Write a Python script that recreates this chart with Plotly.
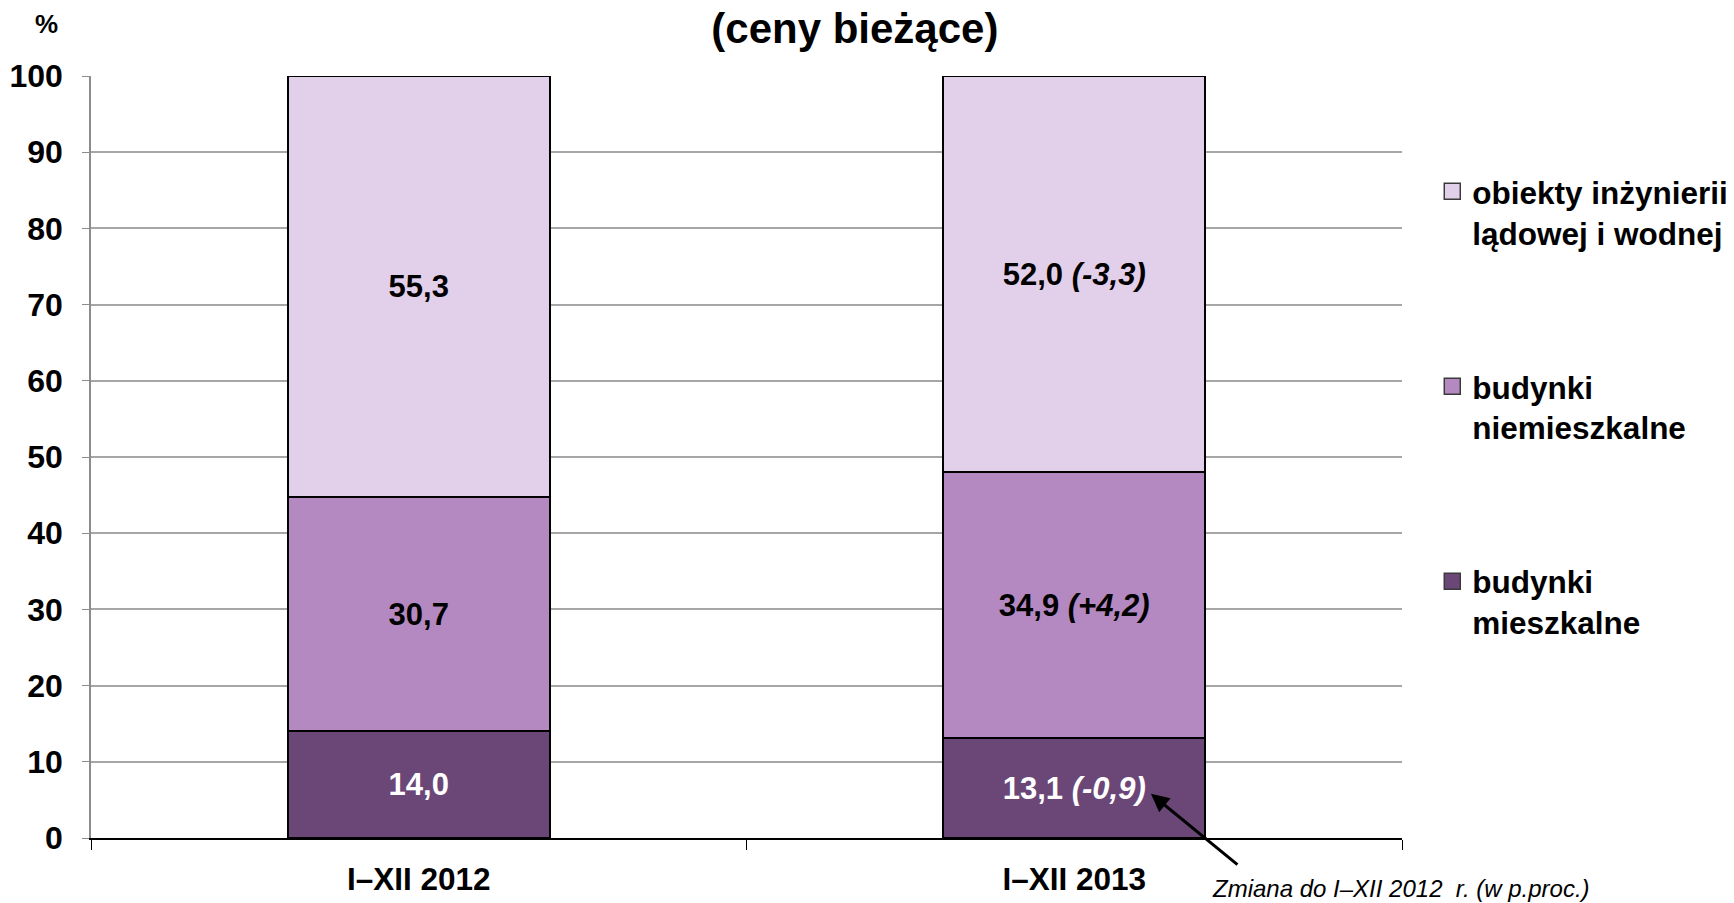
import plotly.graph_objects as go

# data
categories = ['I–XII 2012', 'I–XII 2013']
mieszkalne = [14.0, 13.1]
niemieszkalne = [30.7, 34.9]
inzynieria = [55.3, 52.0]
zm_mieszkalne = [None, '-0,9']
zm_niemieszkalne = [None, '+4,2']
zm_inzynieria = [None, '-3,3']
y_ticks = [0, 10, 20, 30, 40, 50, 60, 70, 80, 90, 100]

FONT = 'Liberation Sans, Arial, sans-serif'


def labels(vals, changes):
  out = []
  for v, c in zip(vals, changes):
    s = f'{v:.1f}'.replace('.', ',')
    if c:
      s += f' <i>({c})</i>'
    out.append(f'<b>{s}</b>')
  return out


series = [
  ('budynki<br>mieszkalne', mieszkalne, zm_mieszkalne, '#6B4778', '#ffffff', 3),
  ('budynki<br>niemieszkalne', niemieszkalne, zm_niemieszkalne, '#B489C1', '#000000', 2),
  ('obiekty inżynierii<br>lądowej i wodnej', inzynieria, zm_inzynieria, '#E2CFE9', '#000000', 1),
]

fig = go.Figure()
for i, (name, vals, ch, col, tcol, rank) in enumerate(series):
  fig.add_trace(go.Bar(
    x=categories, y=vals, name=name, showlegend=False,
    marker=dict(color=col, line=dict(color='#000000', width=2)),
    text=labels(vals, ch), textposition='inside', insidetextanchor='middle',
    textfont=dict(family=FONT, size=31, color=tcol), constraintext='none',
  ))
  # legend-only entry with a bigger square swatch
  fig.add_trace(go.Scatter(
    x=[None], y=[None], mode='markers', name=name, legendgroup=f'g{i}', legendrank=rank,
    marker=dict(symbol='square', size=18, color=col, line=dict(color='#3A3A3A', width=1.5)),
  ))

fig.update_layout(
  barmode='stack', bargap=0.6,
  width=1734, height=903,
  margin=dict(l=91, r=332, t=76, b=65),
  plot_bgcolor='#ffffff', paper_bgcolor='#ffffff',
  font=dict(family=FONT, size=30, color='#000000', weight='bold'),
  title=dict(text='(ceny bieżące)', x=0.493, xanchor='center', y=0.969, yanchor='middle',
             yref='container', font=dict(family=FONT, size=42, weight='bold')),
  legend=dict(xref='container', x=0.826, xanchor='left', y=0.884, yanchor='top', traceorder='grouped',
              tracegroupgap=110, valign='top', font=dict(family=FONT, size=31.5, weight='bold'),
              bgcolor='rgba(0,0,0,0)'),
  showlegend=True,
)
fig.update_xaxes(showline=True, linecolor='#000000', linewidth=1.5, ticks='outside',
                 tickson='boundaries', ticklen=10, tickcolor='#000000', ticklabelstandoff=12,
                 tickfont=dict(family=FONT, size=31.5, weight='bold'), showgrid=False, automargin=False)
fig.update_yaxes(range=[0, 100], tickvals=y_ticks, showgrid=True, gridcolor='#A6A6A6', gridwidth=1.5,
                 showline=True, linecolor='#8C8C8C', linewidth=1.5, ticks='outside', ticklen=7,
                 tickcolor='#8C8C8C', ticklabelstandoff=13, zeroline=False, automargin=False,
                 tickfont=dict(family=FONT, size=32, weight='bold'))

fig.add_annotation(text='<b>%</b>', xref='paper', yref='paper', x=-0.0336, y=1.068,
                   xanchor='center', yanchor='middle',
                   showarrow=False, font=dict(family=FONT, size=26))
fig.add_annotation(x=1.117, y=5.8, xref='x', yref='y', ax=88, ay=72, text='',
                   showarrow=True, arrowhead=2, arrowsize=1.2, arrowwidth=3, arrowcolor='#000000')
fig.add_annotation(text='<i>Zmiana do I–XII 2012\u00a0 r. (w p.proc.)</i>', xref='paper', yref='paper',
                   x=0.999, y=-0.066, xanchor='center', yanchor='middle', showarrow=False,
                   font=dict(family=FONT, size=24, weight='normal'))

fig.write_html('out.html', post_script="document.body.style.margin='0';",
               config={'displayModeBar': False})
